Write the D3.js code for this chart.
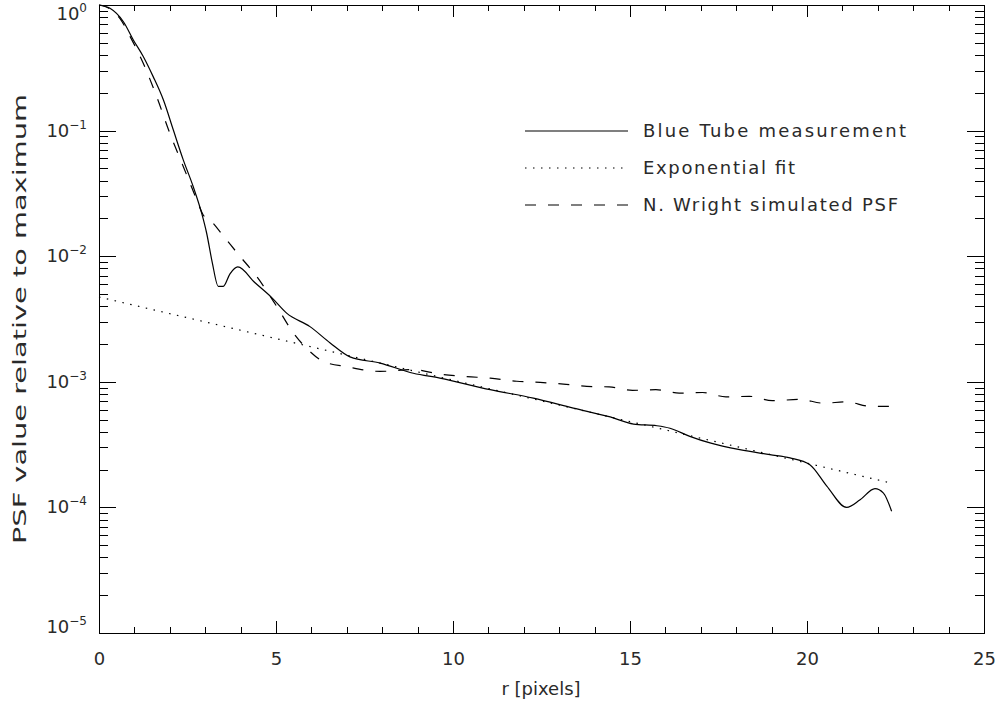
<!DOCTYPE html>
<html>
<head>
<meta charset="utf-8">
<script src="https://cdn.jsdelivr.net/npm/d3@7"></script>
<style>
  html, body { margin: 0; padding: 0; background: #fff; }
  svg { display: block; font-family: "DejaVu Sans", sans-serif; }
  .axis path, .axis line { stroke: #000; stroke-width: 1; shape-rendering: crispEdges; }
</style>
</head>
<body>
<div id="chart"></div>
<script>
// Blue Tube measurement (solid)
var tubeR = [0, 0.31, 0.69, 0.97, 1.25, 1.53, 1.82, 2.1, 2.38, 2.66, 2.9, 3.04, 3.2, 3.37, 3.51, 3.7, 3.92,
  4.4, 4.88, 5.3, 5.96, 6.53, 7.09, 7.94, 8.88, 9.63, 11.05, 12.27, 13.4, 14.44, 15.1, 15.76, 16.13,
  16.69, 17.26, 18.1, 18.95, 19.52, 20.08, 20.56, 21.12, 21.5, 21.92, 22.16, 22.39];
var tubeV = [1, 0.942, 0.736, 0.527, 0.389, 0.269, 0.175, 0.101, 0.0585, 0.0359, 0.022, 0.0153, 0.0089,
  0.00575, 0.00575, 0.00724, 0.00822, 0.00617, 0.00468, 0.00352, 0.00275, 0.00204, 0.00158, 0.00141,
  0.00117, 0.00107, 0.000865, 0.000741, 0.000617, 0.000525, 0.000461, 0.000447, 0.000427, 0.000368,
  0.000326, 0.000288, 0.000263, 0.000248, 0.000219, 0.000148, 0.0001, 0.000115, 0.000141, 0.00013, 0.0000933];

// Exponential fit (dotted)
var fitR = [0, 5, 10, 15, 20, 22.3];
var fitV = [0.00473, 0.00221, 0.00103, 0.000482, 0.000225, 0.000158];

// N. Wright simulated PSF (dashed)
var simR = [0, 0.3, 0.6, 0.88, 1.25, 1.63, 2.0, 2.38, 2.76, 2.94, 3.16, 3.51, 3.98, 4.45, 5.02, 5.49, 5.96,
  6.34, 7.0, 7.94, 8.88, 9.63, 10.39, 11.05, 11.8, 12.46, 13.12, 13.78, 14.41, 15.07, 15.73, 16.39,
  17.05, 17.71, 18.37, 19.02, 19.8, 20.46, 21.12, 21.78, 22.34];
var simV = [1, 0.933, 0.776, 0.56, 0.344, 0.186, 0.0955, 0.0518, 0.0282, 0.0214, 0.0191, 0.0145, 0.01,
  0.00692, 0.00398, 0.00245, 0.00174, 0.00145, 0.00132, 0.00121, 0.00125, 0.00115, 0.0011, 0.00107,
  0.00101, 0.000989, 0.000959, 0.00092, 0.00091, 0.000855, 0.000865, 0.000813, 0.000822, 0.000759,
  0.000766, 0.000708, 0.000724, 0.000676, 0.000692, 0.000638, 0.000638];

var xMajor = [0, 5, 10, 15, 20, 25];
var yExp = [0, -1, -2, -3, -4, -5];
var legendLabels = ['Blue Tube measurement', 'Exponential fit', 'N. Wright simulated PSF'];
var legendDash = [null, '1.5,6.5', '11,12'];

(function () {
  var width = 1003, height = 704;
  var mLeft = 99, mRight = 984, mTop = 5, mBottom = 633;
  var textColor = '#2a2a2a';

  var svg = d3.select('#chart').append('svg')
    .attr('width', width)
    .attr('height', height);

  var x = d3.scaleLinear().domain([0, 25]).range([mLeft, mRight]);
  var y = d3.scaleLog().domain([1e-5, 1]).range([mBottom, mTop]);

  var xMinor = d3.range(0, 26).filter(function (v) { return v % 5 !== 0; });
  var yMinor = [];
  yExp.forEach(function (e) {
    if (e === 0) return;
    for (var k = 2; k <= 9; k++) yMinor.push(k * Math.pow(10, e));
  });
  var yMajor = yExp.map(function (e) { return Math.pow(10, e); });

  function addAxis(axis, tr) {
    var g = svg.append('g').attr('class', 'axis').attr('transform', tr).call(axis);
    g.select('.domain').remove();
    g.selectAll('text').attr('fill', textColor).attr('font-size', '18px')
      .attr('font-family', '"DejaVu Sans", sans-serif');
    return g;
  }

  // x axes (bottom with labels, top ticks only)
  addAxis(d3.axisBottom(x).tickValues(xMajor).tickSize(-12).tickSizeOuter(0).tickPadding(19)
    .tickFormat(d3.format('d')), 'translate(0,' + mBottom + ')');
  addAxis(d3.axisBottom(x).tickValues(xMinor).tickSize(-6).tickSizeOuter(0).tickFormat(''),
    'translate(0,' + mBottom + ')');
  addAxis(d3.axisTop(x).tickValues(xMajor).tickSize(-12).tickSizeOuter(0).tickFormat(''),
    'translate(0,' + mTop + ')');
  addAxis(d3.axisTop(x).tickValues(xMinor).tickSize(-6).tickSizeOuter(0).tickFormat(''),
    'translate(0,' + mTop + ')');

  // y axes
  addAxis(d3.axisLeft(y).tickValues(yMajor).tickSize(-17).tickSizeOuter(0).tickFormat(''),
    'translate(' + mLeft + ',0)');
  addAxis(d3.axisLeft(y).tickValues(yMinor).tickSize(-9).tickSizeOuter(0).tickFormat(''),
    'translate(' + mLeft + ',0)');
  addAxis(d3.axisRight(y).tickValues(yMajor).tickSize(-17).tickSizeOuter(0).tickFormat(''),
    'translate(' + mRight + ',0)');
  addAxis(d3.axisRight(y).tickValues(yMinor).tickSize(-9).tickSizeOuter(0).tickFormat(''),
    'translate(' + mRight + ',0)');

  // frame
  svg.append('rect')
    .attr('x', mLeft).attr('y', mTop)
    .attr('width', mRight - mLeft).attr('height', mBottom - mTop)
    .attr('fill', 'none').attr('stroke', '#000').attr('stroke-width', 1)
    .attr('shape-rendering', 'crispEdges');

  // y tick labels 10^n
  var yl = svg.append('g').selectAll('text')
    .data(yExp)
    .enter().append('text')
    .attr('text-anchor', 'end')
    .attr('x', 87)
    .attr('y', function (e) {
      var ty = y(Math.pow(10, e));
      return Math.min(Math.max(ty + 6, 20), mBottom);
    })
    .attr('fill', textColor)
    .attr('font-size', '18px');
  yl.append('tspan').text('10');
  yl.append('tspan')
    .attr('dy', -8)
    .attr('font-size', '12px')
    .text(function (e) { return e === 0 ? '0' : '\u2212' + (-e); });

  // axis titles
  svg.append('text')
    .attr('x', 541).attr('y', 695)
    .attr('text-anchor', 'middle')
    .attr('fill', textColor).attr('font-size', '18px')
    .text('r [pixels]');
  svg.append('text')
    .attr('transform', 'translate(26,' + (mBottom + mTop) / 2 + ') rotate(-90)')
    .attr('text-anchor', 'middle')
    .attr('fill', textColor).attr('font-size', '18px')
    .attr('textLength', 450).attr('lengthAdjust', 'spacingAndGlyphs')
    .text('PSF value relative to maximum');

  // curves
  var line = d3.line()
    .x(function (d) { return x(d[0]); })
    .y(function (d) { return y(d[1]); })
    .curve(d3.curveMonotoneX);

  var series = [
    { r: tubeR, v: tubeV, dash: legendDash[0] },
    { r: fitR, v: fitV, dash: legendDash[1] },
    { r: simR, v: simV, dash: legendDash[2] }
  ];

  svg.append('g')
    .selectAll('path')
    .data(series)
    .enter().append('path')
    .attr('d', function (s) { return line(d3.zip(s.r, s.v)); })
    .attr('fill', 'none')
    .attr('stroke', '#000')
    .attr('stroke-width', 1.2)
    .attr('stroke-dasharray', function (s) { return s.dash; });

  // legend
  var legendWidths = [263, 152, 255];
  var leg = svg.append('g')
    .selectAll('g')
    .data(legendLabels)
    .enter().append('g')
    .attr('transform', function (d, i) { return 'translate(0,' + (131 + i * 37) + ')'; });
  leg.append('line')
    .attr('x1', 525).attr('x2', 628)
    .attr('y1', 0).attr('y2', 0)
    .attr('stroke', '#000').attr('stroke-width', 1.2)
    .attr('stroke-dasharray', function (d, i) { return legendDash[i]; });
  leg.append('text')
    .attr('x', 643).attr('y', 6)
    .attr('fill', textColor).attr('font-size', '18px')
    .attr('textLength', function (d, i) { return legendWidths[i]; })
    .attr('lengthAdjust', 'spacing')
    .text(function (d) { return d; });
})();
</script>
</body>
</html>
